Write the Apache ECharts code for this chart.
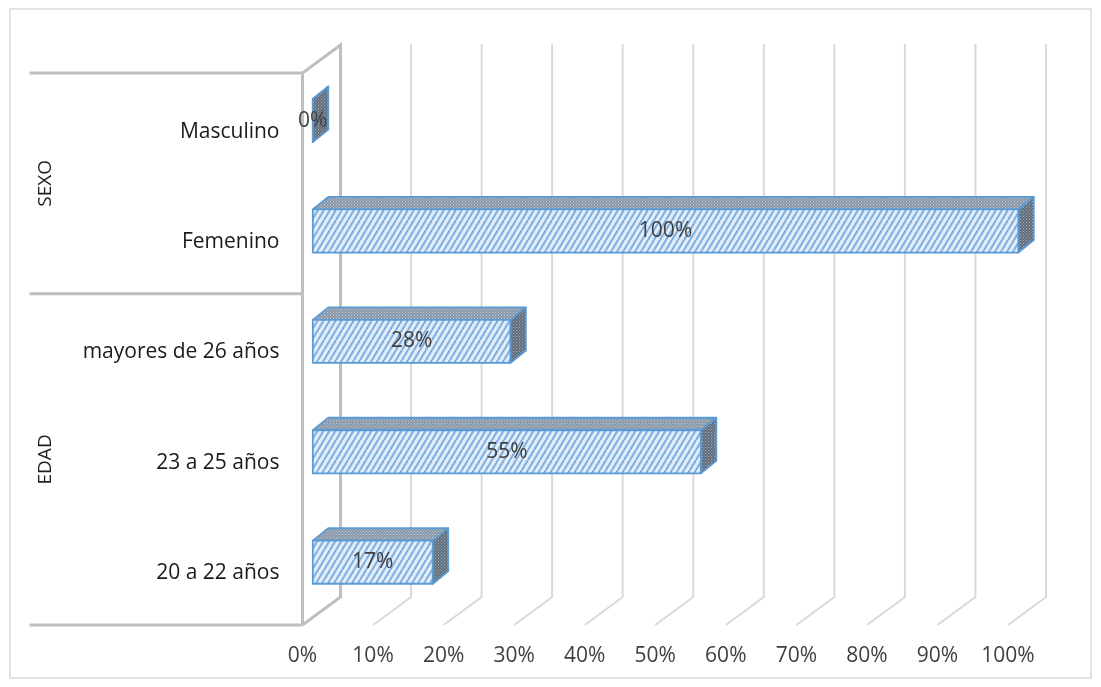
<!DOCTYPE html>
<html>
<head>
<meta charset="utf-8">
<title>SEXO y EDAD</title>
<script src="https://cdn.jsdelivr.net/npm/echarts@6/dist/echarts.min.js"></script>
<style>
  html, body { margin: 0; padding: 0; background: #ffffff; }
  #chart { width: 1101px; height: 687px; }
</style>
</head>
<body>
<div id="chart"></div>
<script>
// Categories listed bottom to top, as the category axis stacks them.
const categories = ['20 a 22 años', '23 a 25 años', 'mayores de 26 años', 'Femenino', 'Masculino'];
const values = [17, 55, 28, 100, 0];
// Outer grouping of the categories (bottom to top) and how many each spans.
const groupNames = ['EDAD', 'SEXO'];
const groupSizes = [3, 2];
const percentTicks = [0, 10, 20, 30, 40, 50, 60, 70, 80, 90, 100];

// Oblique 3D look: depth offset of the walls, and where the bars sit in depth.
const WALL_DEPTH = [38, -28];
const BAR_SHIFT = [10.3, -7.6];
const BAR_DEPTH = [15.5, -12.5];
const BAR_RATIO = 0.39;
const FONT = '"Open Sans", "Noto Sans", sans-serif';

function makePattern(w, h, draw) {
  const c = document.createElement('canvas');
  c.width = w; c.height = h;
  draw(c.getContext('2d'), w, h);
  return { image: c, repeat: 'repeat' };
}

// Light blue upward diagonal hatch for the bar fronts.
const hatchFill = makePattern(6, 10, (ctx, w, h) => {
  ctx.fillStyle = '#e2edf9';
  ctx.fillRect(0, 0, w, h);
  ctx.strokeStyle = '#7eaee0';
  ctx.lineWidth = 2;
  for (let k = -1; k <= 2; k++) {
    ctx.beginPath();
    ctx.moveTo(k * w - w, h);
    ctx.lineTo(k * w, 0);
    ctx.stroke();
  }
});
// Fine dotted grey-blue for the top faces.
const topFill = makePattern(3, 3, (ctx) => {
  ctx.fillStyle = '#8797a8';
  ctx.fillRect(0, 0, 3, 3);
  ctx.fillStyle = '#c3ccd6';
  ctx.fillRect(0, 0, 1, 1);
  ctx.fillRect(1.5, 1.5, 1, 1);
});
// Darker dotted grey for the side faces.
const sideFill = makePattern(3, 3, (ctx) => {
  ctx.fillStyle = '#5e6c7b';
  ctx.fillRect(0, 0, 3, 3);
  ctx.fillStyle = '#a3aebb';
  ctx.fillRect(0, 0, 1, 1);
  ctx.fillRect(1.5, 1.5, 1, 1);
});

// Back-wall gridlines, floor diagonals and the left wall.
function renderFrame(params, api) {
  const cs = params.coordSys;
  const t = api.value(0);
  const xf = api.coord([t, 0])[0];
  const yTop = cs.y, yBot = cs.y + cs.height;
  const xb = xf + WALL_DEPTH[0];
  const ybTop = yTop + WALL_DEPTH[1] - 1;
  const ybBot = yBot + WALL_DEPTH[1];
  if (t === percentTicks[0]) {
    return {
      type: 'polyline',
      shape: { points: [[xf, yBot], [xf, yTop], [xb, ybTop + 1], [xb, ybBot], [xf, yBot]] },
      style: { stroke: '#bfbfbf', lineWidth: 3, fill: null, lineJoin: 'miter' }
    };
  }
  return {
    type: 'polyline',
    shape: { points: [[xb, ybTop], [xb, ybBot], [xf, yBot]] },
    style: { stroke: '#d9d9d9', lineWidth: 2, fill: null }
  };
}

// Outer category groups: separator lines and rotated group names.
function renderGroup(params, api) {
  const cs = params.coordSys;
  const g = params.dataIndex;
  const band = cs.height / categories.length;
  let start = 0;
  for (let i = 0; i < g; i++) start += groupSizes[i];
  const end = start + groupSizes[g];
  const yLow = cs.y + cs.height - start * band;
  const yHigh = cs.y + cs.height - end * band;
  const xLeft = cs.x - 273;
  const children = [
    { type: 'line', shape: { x1: xLeft, y1: yHigh, x2: cs.x, y2: yHigh },
      style: { stroke: '#bfbfbf', lineWidth: 3 } },
    { type: 'text', x: cs.x - 257, y: (yLow + yHigh) / 2, rotation: Math.PI / 2,
      style: { text: groupNames[g], align: 'center', verticalAlign: 'middle',
               fontSize: 19, fontFamily: FONT, fill: '#1f1f1f' } }
  ];
  if (start === 0) {
    children.push({ type: 'line', shape: { x1: xLeft, y1: yLow, x2: cs.x, y2: yLow },
      style: { stroke: '#bfbfbf', lineWidth: 3 } });
  }
  return { type: 'group', children };
}

// 3D-looking bar: side and top faces, hatched front face, value label.
function renderBar(params, api) {
  const v = api.value(0);
  const c = api.value(1);
  const p0 = api.coord([0, c]);
  const p1 = api.coord([v, c]);
  const band = api.size([0, 1])[1];
  const h = band * BAR_RATIO;
  const x0 = p0[0] + BAR_SHIFT[0];
  const x1 = p1[0] + BAR_SHIFT[0];
  const yc = p0[1] + BAR_SHIFT[1];
  const yt = yc - h / 2, yb = yc + h / 2;
  const dx = BAR_DEPTH[0], dy = BAR_DEPTH[1];
  const edge = { stroke: '#5b9bd5', lineWidth: 1.8, lineJoin: 'round' };
  return {
    type: 'group',
    children: [
      { type: 'polygon',
        shape: { points: [[x1, yt], [x1 + dx, yt + dy], [x1 + dx, yb + dy], [x1, yb]] },
        style: Object.assign({ fill: sideFill }, edge) },
      { type: 'polygon',
        shape: { points: [[x0, yt], [x1, yt], [x1 + dx, yt + dy], [x0 + dx, yt + dy]] },
        style: Object.assign({ fill: topFill }, edge) },
      { type: 'rect',
        shape: { x: x0, y: yt, width: x1 - x0, height: h },
        style: Object.assign({ fill: hatchFill }, edge) },
      { type: 'text',
        style: { text: v + '%', x: (x0 + x1) / 2, y: yc, align: 'center', verticalAlign: 'middle',
                 fontSize: 21, fontFamily: FONT, fill: '#404040' } }
    ]
  };
}

const chart = echarts.init(document.getElementById('chart'), null, { renderer: 'canvas' });
chart.setOption({
  animation: false,
  backgroundColor: '#ffffff',
  graphic: [{
    type: 'rect',
    shape: { x: 10, y: 9, width: 1081, height: 669 },
    style: { fill: null, stroke: '#d9d9d9', lineWidth: 1.5 },
    silent: true
  }],
  grid: { left: 302.5, right: 93, top: 73, bottom: 62, containLabel: false },
  xAxis: {
    type: 'value', min: 0, max: 100, interval: 10,
    axisLine: { show: false }, axisTick: { show: false }, splitLine: { show: false },
    axisLabel: { formatter: '{value}%', margin: 21, fontSize: 21, fontFamily: FONT, color: '#404040' }
  },
  yAxis: {
    type: 'category', data: categories,
    axisLine: { show: false }, axisTick: { show: false }, splitLine: { show: false },
    axisLabel: {
      margin: 23,
      formatter: '{c|{value}}',
      rich: { c: { fontSize: 21, fontFamily: FONT, color: '#1a1a1a', padding: [7, 0, 0, 0] } }
    }
  },
  series: [
    { type: 'custom', name: 'frame', renderItem: renderFrame, clip: false, z: 1, silent: true,
      encode: { x: 0 }, data: percentTicks.map(t => [t]) },
    { type: 'custom', name: 'groups', renderItem: renderGroup, clip: false, z: 2, silent: true,
      encode: { x: 0 }, data: groupNames.map(() => [0]) },
    { type: 'custom', name: 'valores', renderItem: renderBar, clip: false, z: 3,
      encode: { x: 0, y: 1 }, data: values.map((v, i) => [v, categories[i]]) }
  ]
});
</script>
</body>
</html>
